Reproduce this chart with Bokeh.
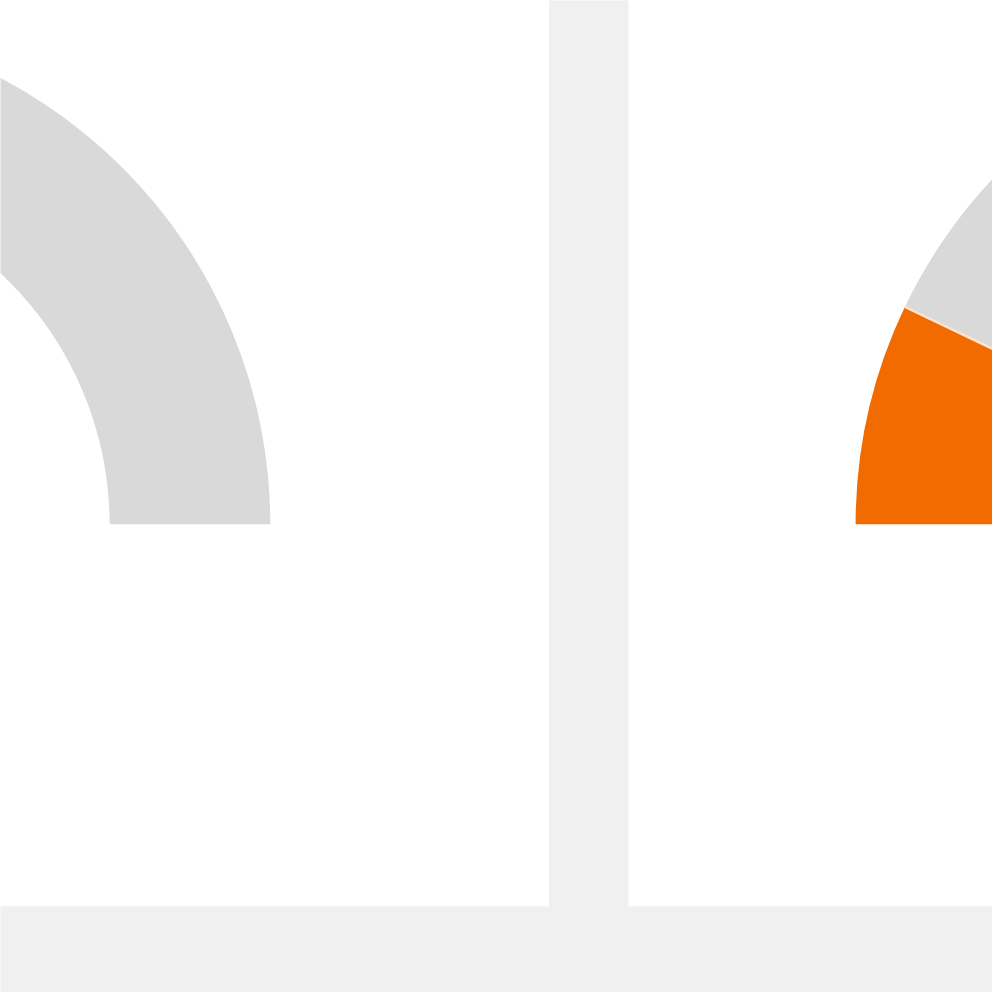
import math
from bokeh.plotting import figure
from bokeh.models import Range1d
from bokeh.embed import file_html
from bokeh.resources import INLINE

# Gauge data (percent of full scale)
gauge_names = ["Gauge 1", "Gauge 2"]
gauge_values = [0.0, 14.2]
gauge_max = [100.0, 100.0]

# Colours
track_color = "#d9d9d9"
value_color = "#f26b00"
page_bg = "#f0f0f0"
panel_bg = "#ffffff"

W, H = 992, 992
p = figure(width=W, height=H, output_backend="svg", toolbar_location=None,
           x_range=Range1d(0, 1000), y_range=Range1d(0, 1000),
           min_border=0, background_fill_color=panel_bg,
           border_fill_color=panel_bg)
p.axis.visible = False
p.grid.visible = False
p.outline_line_color = None

# Dashboard gutters (grey) between the white cards; y is measured upward
p.quad(left=[553, -50], right=[633, 1100], bottom=[-50, -50],
       top=[1100, 1000 - 913], fill_color=page_bg, line_color=None)

# Gauge geometry
centers_x = [-236, 1370]
center_y = 1000 - 528
outer_r = 508
inner_r = 346

for cx, v, m in zip(centers_x, gauge_values, gauge_max):
    f = v / m
    split = math.pi * (1 - f)
    # track (remaining part)
    p.annular_wedge(x=[cx], y=[center_y], inner_radius=inner_r, outer_radius=outer_r,
                    start_angle=0, end_angle=split, fill_color=track_color,
                    line_color=None)
    if f > 0:
        p.annular_wedge(x=[cx], y=[center_y], inner_radius=inner_r, outer_radius=outer_r,
                        start_angle=split, end_angle=math.pi, fill_color=value_color,
                        line_color=None)
        p.segment(x0=[cx + inner_r * math.cos(split)], y0=[center_y + inner_r * math.sin(split)],
                  x1=[cx + outer_r * math.cos(split)], y1=[center_y + outer_r * math.sin(split)],
                  line_color="#fde3d0", line_width=2.5)

open("out.html", "w").write(file_html(p, INLINE))
